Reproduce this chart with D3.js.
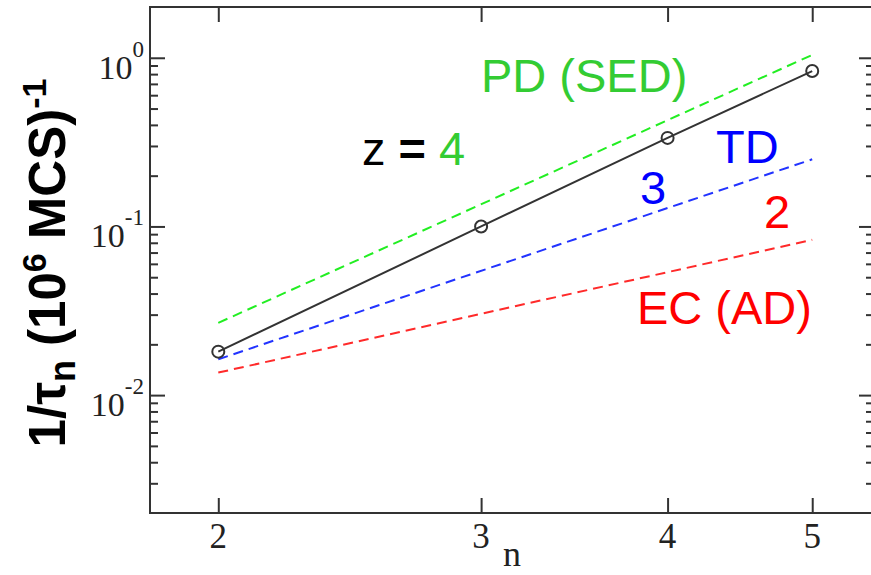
<!DOCTYPE html>
<html>
<head>
<meta charset="utf-8">
<script src="https://cdn.jsdelivr.net/npm/d3@7"></script>
<style>
  html, body { margin: 0; padding: 0; background: #fff; }
  svg { display: block; }
</style>
</head>
<body>
<svg id="chart" width="871" height="575"></svg>
<script>
// Relaxation rate 1/tau_n versus n, with power-law guides for z = 4, 3, 2
const nValues = [2, 3, 4, 5];
const rateValues = [0.0181, 0.100, 0.335, 0.834];

// Dashed guide lines, evaluated at the ends n = 2 and n = 5
const guideN = [2, 5];
const pdGuide = [0.0268, 1.04];   // z = 4, PD (SED)
const tdGuide = [0.0163, 0.250];  // z = 3, TD
const ecGuide = [0.0136, 0.0833]; // z = 2, EC (AD)

const xTicks = [2, 3, 4, 5];
const yMajorTicks = [0.01, 0.1, 1];
const yTickExponents = ["-2", "-1", "0"];

const svg = d3.select("#chart");
const plotLeft = 150, plotRight = 874, plotTop = 7, plotBottom = 513;

const x = d3.scaleLog().domain([1.8, 5.5]).range([plotLeft, plotRight]);
const y = d3.scaleLog().domain([0.002, 2]).range([plotBottom, plotTop]);

const axisColor = "#333";

// minor ticks: 2..9 in each decade inside the domain
const yMinor = [];
for (let e = -3; e <= 0; e++) {
  for (let m = 2; m <= 9; m++) {
    const v = m * Math.pow(10, e);
    if (v > 0.002 && v < 2) yMinor.push(v);
  }
}

function styleAxis(g) {
  g.select(".domain").remove();
  g.selectAll("line").attr("stroke", axisColor).attr("stroke-width", 2);
}

// bottom and top ticks (pointing inward)
svg.append("g").attr("transform", `translate(0,${plotBottom})`)
  .call(d3.axisBottom(x).tickValues(xTicks).tickSize(-15).tickFormat(""))
  .call(styleAxis);
svg.append("g").attr("transform", `translate(0,${plotTop})`)
  .call(d3.axisTop(x).tickValues(xTicks).tickSize(-15).tickFormat(""))
  .call(styleAxis);

// left and right ticks, major and minor
svg.append("g").attr("transform", `translate(${plotLeft},0)`)
  .call(d3.axisLeft(y).tickValues(yMajorTicks).tickSize(-15).tickFormat(""))
  .call(styleAxis);
svg.append("g").attr("transform", `translate(${plotLeft},0)`)
  .call(d3.axisLeft(y).tickValues(yMinor).tickSize(-8).tickFormat(""))
  .call(styleAxis);
svg.append("g").attr("transform", `translate(${plotRight},0)`)
  .call(d3.axisRight(y).tickValues(yMajorTicks).tickSize(-15).tickFormat(""))
  .call(styleAxis);
svg.append("g").attr("transform", `translate(${plotRight},0)`)
  .call(d3.axisRight(y).tickValues(yMinor).tickSize(-8).tickFormat(""))
  .call(styleAxis);

// frame
svg.append("rect")
  .attr("x", plotLeft).attr("y", plotTop)
  .attr("width", plotRight - plotLeft).attr("height", plotBottom - plotTop)
  .attr("fill", "none").attr("stroke", axisColor).attr("stroke-width", 2);

// x tick labels
svg.append("g").selectAll("text").data(xTicks).join("text")
  .attr("x", d => x(d)).attr("y", plotBottom + 35)
  .attr("text-anchor", "middle")
  .attr("font-family", "Liberation Serif, Times New Roman, serif")
  .attr("font-size", 35).attr("fill", "#222")
  .text(d => d);

// y tick labels: 10 with superscript exponent
const yl = svg.append("g").selectAll("text").data(yMajorTicks).join("text")
  .attr("x", 144).attr("y", d => y(d) + 21)
  .attr("text-anchor", "end")
  .attr("font-family", "Liberation Serif, Times New Roman, serif")
  .attr("font-size", 34).attr("fill", "#222");
yl.append("tspan").text("10");
yl.append("tspan").attr("font-size", 23).attr("dy", -22)
  .text((d, i) => yTickExponents[i]);

// axis titles
svg.append("text")
  .attr("x", 512).attr("y", 566)
  .attr("text-anchor", "middle")
  .attr("font-family", "Liberation Serif, Times New Roman, serif")
  .attr("font-size", 36).attr("fill", "#222")
  .text("n");

const yt = svg.append("text")
  .attr("transform", "translate(65,263) rotate(-90)")
  .attr("text-anchor", "middle")
  .attr("font-family", "Liberation Sans, Arial, sans-serif")
  .attr("font-weight", "bold")
  .attr("font-size", 51).attr("fill", "#000");
yt.append("tspan").text("1/τ");
yt.append("tspan").attr("font-size", 36).attr("dy", 10).text("n");
yt.append("tspan").attr("dy", -10).text(" (10");
yt.append("tspan").attr("font-size", 34).attr("dy", -19).text("6");
yt.append("tspan").attr("dy", 19).text(" MCS)");
yt.append("tspan").attr("font-size", 34).attr("dy", -19).text("-1");

// dashed guides
const line = d3.line().x(d => x(d[0])).y(d => y(d[1]));
const guides = [
  { vals: pdGuide, color: "#22ee22" },
  { vals: tdGuide, color: "#2233ff" },
  { vals: ecGuide, color: "#ff2a2a" }
];
guides.forEach(g => {
  svg.append("path")
    .datum(guideN.map((n, i) => [n, g.vals[i]]))
    .attr("d", line)
    .attr("fill", "none")
    .attr("stroke", g.color)
    .attr("stroke-width", 2)
    .attr("stroke-dasharray", "10,6");
});

// measured rates
const pts = nValues.map((n, i) => [n, rateValues[i]]);
svg.append("path").datum(pts).attr("d", line)
  .attr("fill", "none").attr("stroke", "#333").attr("stroke-width", 2);
svg.append("g").selectAll("circle").data(pts).join("circle")
  .attr("cx", d => x(d[0])).attr("cy", d => y(d[1])).attr("r", 6)
  .attr("fill", "none").attr("stroke", "#333").attr("stroke-width", 2);

// annotations
const annFont = "Liberation Sans, Arial, sans-serif";
function ann(xp, yp, parts) {
  const t = svg.append("text").attr("x", xp).attr("y", yp)
    .attr("font-family", annFont).attr("font-size", 47);
  parts.forEach(p => t.append("tspan").attr("fill", p[1])
    .attr("font-weight", p[2] || "normal").text(p[0]));
}
const green = "#33cc33", blue = "#0000ff", red = "#ff0000";
ann(481, 92, [["PD (SED)", green]]);
ann(362, 165, [["z ", "#000"], ["=", "#000", "bold"], [" ", "#000"], ["4", green]]);
ann(716, 163, [["TD", blue]]);
ann(640, 204, [["3", blue]]);
ann(764, 228, [["2", red]]);
ann(637, 324, [["EC (AD)", red]]);
</script>
</body>
</html>
